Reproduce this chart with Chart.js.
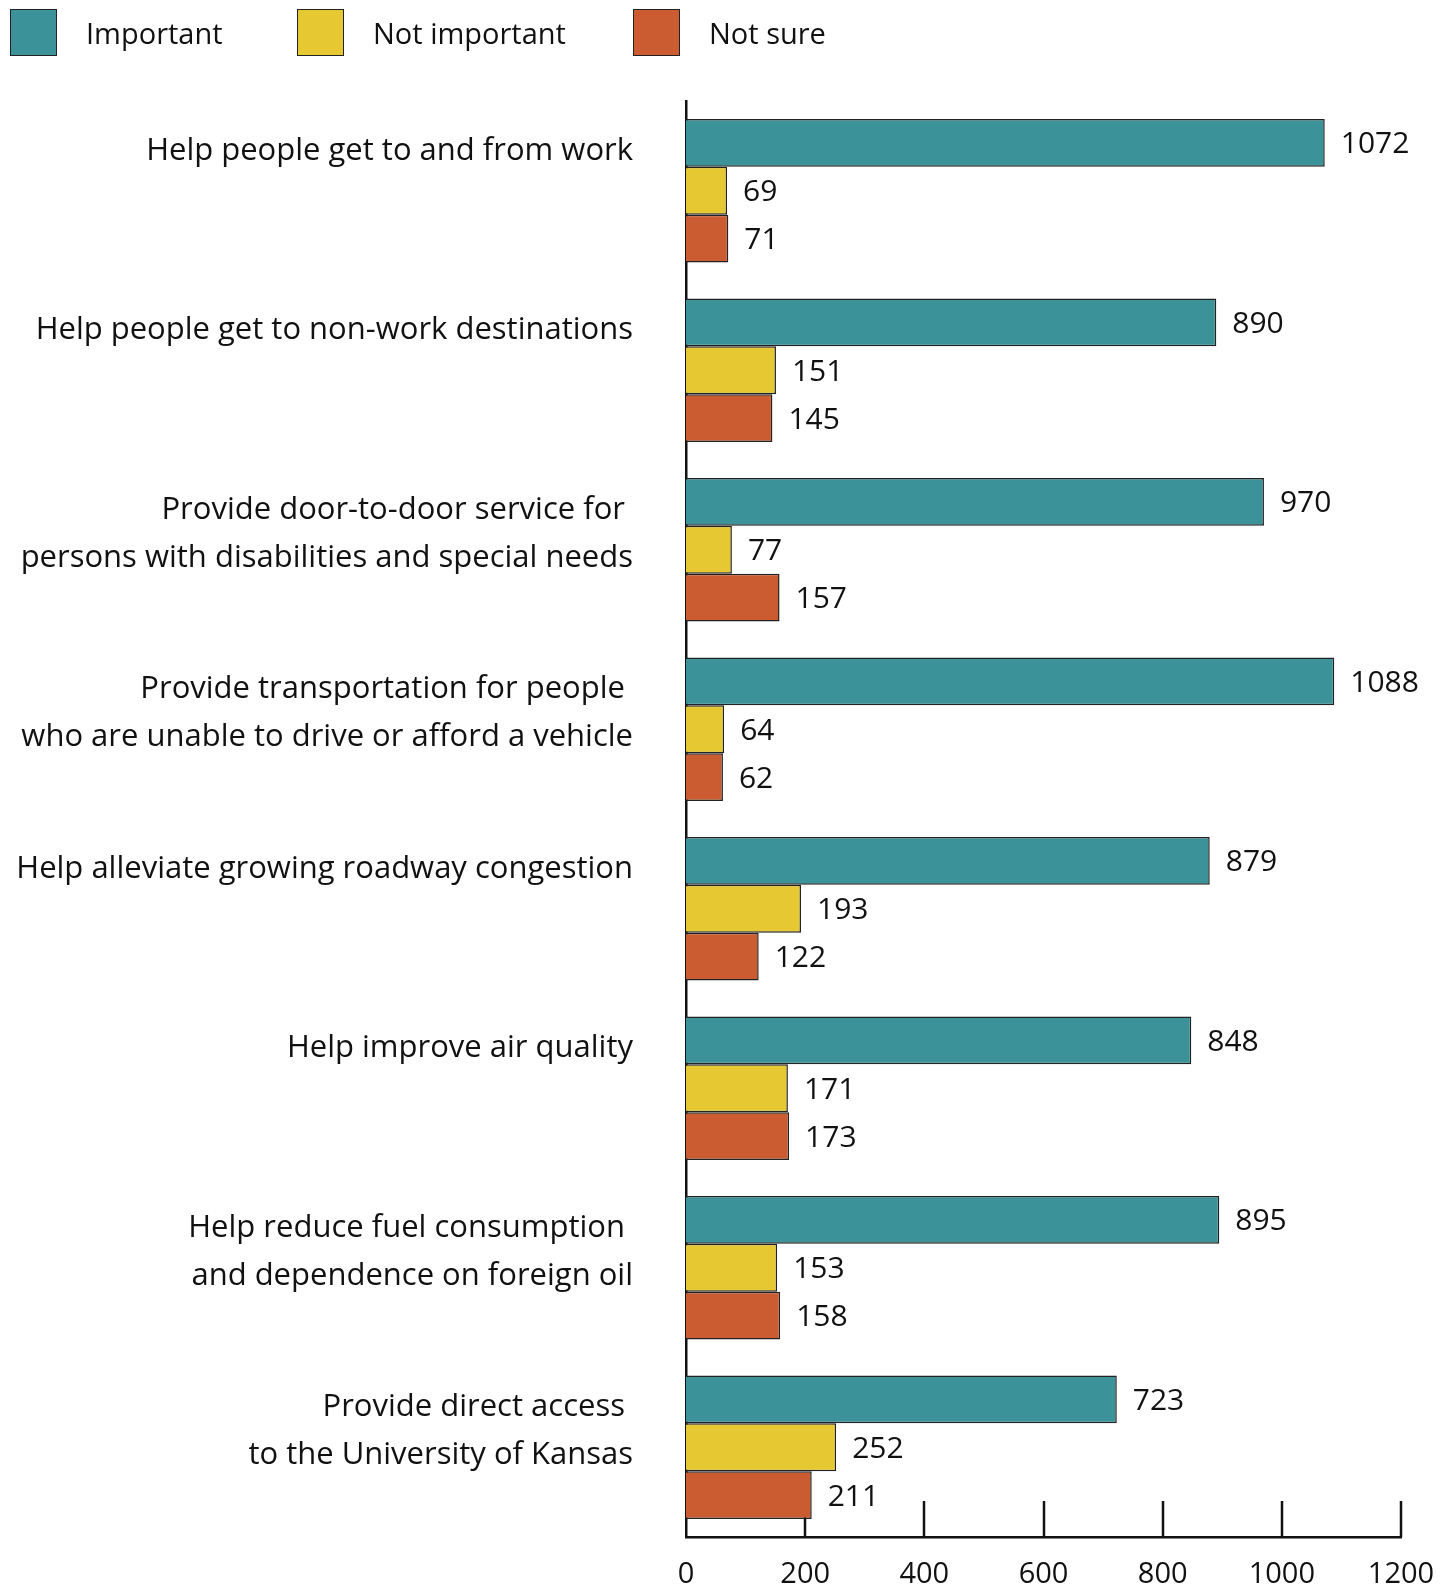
<!DOCTYPE html>
<html>
<head>
<meta charset="utf-8">
<script src="https://cdn.jsdelivr.net/npm/chart.js@4.4.0/dist/chart.umd.min.js"></script>
<style>
  body { margin: 0; background: #fff; font-family: "Open Sans", sans-serif; }
  .wrap { position: relative; width: 1455px; height: 1592px; }
  .legend { position: absolute; top: 0; left: 0; height: 64px; width: 1455px; }
  .legend-item { position: absolute; top: 8px; height: 48px; display: flex; align-items: center; }
  .swatch { width: 45px; height: 45px; border: 1.5px solid #222; margin-right: 29px; }
  .legend-item span { font-size: 29px; color: #111; }
</style>
</head>
<body>
<div class="wrap">
  <div class="legend" id="legend"></div>
  <canvas id="chart"></canvas>
</div>
<script>
// categories (single-line labels padded with an empty line so all blocks start at the same height)
const categories = [
  ["Help people get to and from work", ""],
  ["Help people get to non-work destinations", ""],
  ["Provide door-to-door service for ", "persons with disabilities and special needs"],
  ["Provide transportation for people ", "who are unable to drive or afford a vehicle"],
  ["Help alleviate growing roadway congestion", ""],
  ["Help improve air quality", ""],
  ["Help reduce fuel consumption ", "and dependence on foreign oil"],
  ["Provide direct access ", "to the University of Kansas"]
];

const seriesNames = ["Important", "Not important", "Not sure"];
const important = [1072, 890, 970, 1088, 879, 848, 895, 723];
const notImportant = [69, 151, 77, 64, 193, 171, 153, 252];
const notSure = [71, 145, 157, 62, 122, 173, 158, 211];

const xTicks = [0, 200, 400, 600, 800, 1000, 1200];

const colors = ["#3b9399", "#e5c832", "#cb5b30"];

// legend (html, left positions)
const legendLeft = [10, 297, 633];
const legend = document.getElementById("legend");
seriesNames.forEach((name, i) => {
  const item = document.createElement("div");
  item.className = "legend-item";
  item.style.left = legendLeft[i] + "px";
  item.innerHTML = `<div class="swatch" style="background:${colors[i]}"></div><span>${name}</span>`;
  legend.appendChild(item);
});

const FONT = "'Open Sans', sans-serif";

// value labels to the right of each bar
const valueLabels = {
  id: "valueLabels",
  afterDatasetsDraw(chart) {
    const ctx = chart.ctx;
    ctx.save();
    ctx.font = "30px " + FONT;
    ctx.fillStyle = "#111";
    ctx.textAlign = "left";
    ctx.textBaseline = "middle";
    chart.data.datasets.forEach((ds, i) => {
      chart.getDatasetMeta(i).data.forEach((bar, j) => {
        ctx.fillText(ds.data[j], bar.x + 16, bar.y + 2);
      });
    });
    ctx.restore();
  }
};

// tick marks pointing up from the x axis, behind the bars
const upTicks = {
  id: "upTicks",
  beforeDatasetsDraw(chart) {
    const ctx = chart.ctx;
    const x = chart.scales.x;
    const bottom = chart.chartArea.bottom;
    ctx.save();
    ctx.strokeStyle = "#111";
    ctx.lineWidth = 2.5;
    xTicks.forEach(v => {
      if (v === 0) return;
      const px = Math.round(x.getPixelForValue(v));
      ctx.beginPath();
      ctx.moveTo(px, bottom - 36);
      ctx.lineTo(px, bottom);
      ctx.stroke();
    });
    ctx.restore();
  }
};

new Chart(document.getElementById("chart"), {
  type: "bar",
  data: {
    labels: categories,
    datasets: [important, notImportant, notSure].map((d, i) => ({
      label: seriesNames[i],
      data: d,
      backgroundColor: colors[i],
      borderColor: "#222",
      borderWidth: 1.5,
      barPercentage: 1.0,
      categoryPercentage: 0.8
    }))
  },
  options: {
    indexAxis: "y",
    responsive: true,
    maintainAspectRatio: false,
    animation: false,
    layout: { padding: { top: 101, right: 54, left: 0, bottom: 0 } },
    plugins: {
      legend: { display: false },
      tooltip: { enabled: false }
    },
    scales: {
      x: {
        min: 0,
        max: 1200,
        afterBuildTicks(scale) {
          scale.ticks = xTicks.map(v => ({ value: v }));
        },
        afterFit(scale) {
          scale.height = 55;
          scale.paddingLeft = 0;
          scale.paddingRight = 0;
        },
        grid: { display: false, drawTicks: false },
        border: { display: true, color: "#111", width: 2.5 },
        ticks: {
          padding: 20,
          color: "#111",
          font: { family: FONT, size: 29 },
          maxRotation: 0,
          callback: v => String(v)
        }
      },
      y: {
        afterFit(scale) {
          scale.width = 686;
          scale.paddingTop = 0;
          scale.paddingBottom = 0;
        },
        grid: { display: false, drawTicks: false },
        border: { display: true, color: "#111", width: 2.5 },
        ticks: {
          padding: 53,
          labelOffset: -16,
          color: "#111",
          font: { family: FONT, size: 31, lineHeight: "48px" }
        }
      }
    }
  },
  plugins: [valueLabels, upTicks]
});
</script>
</body>
</html>
